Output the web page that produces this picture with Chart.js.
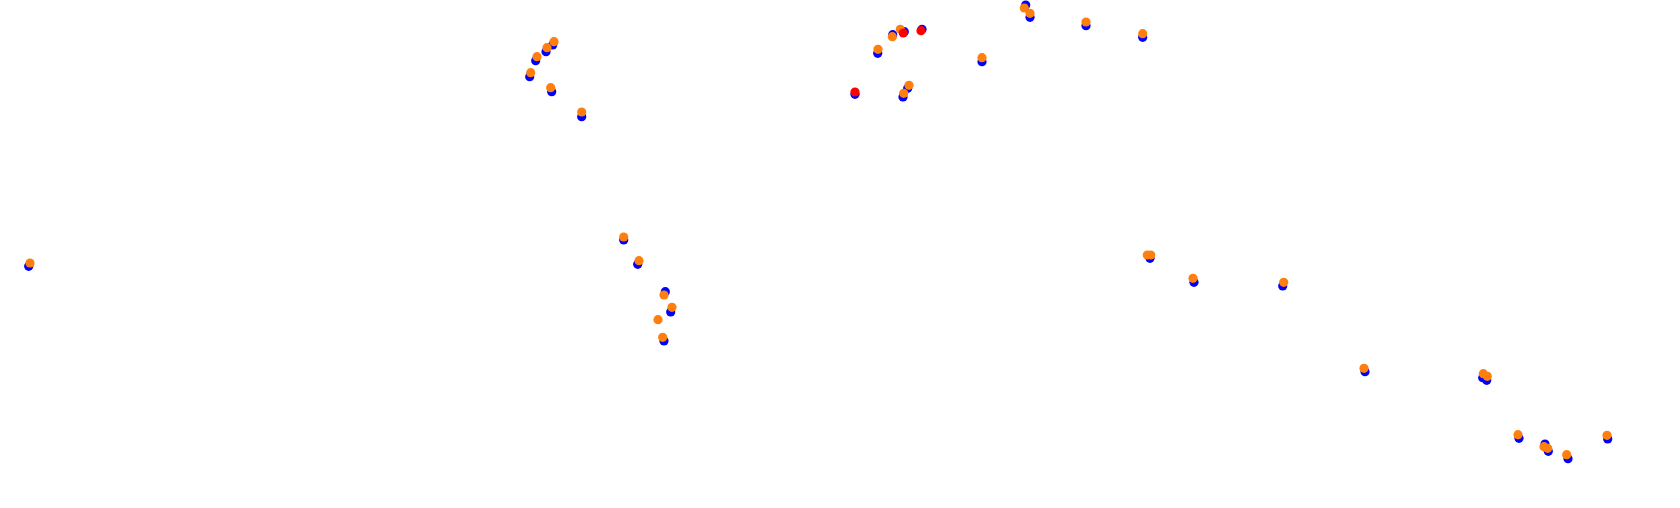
<!DOCTYPE html>
<html>
<head>
<meta charset="utf-8">
<script src="https://cdn.jsdelivr.net/npm/chart.js@4"></script>
<style>
  html, body { margin: 0; padding: 0; background: #fff; }
  #wrap { width: 1680px; height: 508px; }
</style>
</head>
<body>
<div id="wrap"><canvas id="chart"></canvas></div>
<script>
// positions (x right, y down)
const blueX = [28.7, 552.7, 546, 535.7, 529.7, 551.7, 581.7, 623.7, 637.7, 665.3, 670.7, 664,
  855, 877.7, 892.7, 904.3, 922, 907.7, 903, 982, 1025.7, 1030, 1086, 1142.7,
  1150, 1194, 1282.7, 1365, 1482.7, 1486.7, 1519, 1545, 1548.3, 1568, 1607.7];
const blueY = [266.3, 45, 51.7, 60.7, 76.7, 91.7, 116.7, 240, 264.3, 291.7, 312, 341,
  94.3, 53.3, 34.7, 31.7, 29.3, 88.3, 97, 61.7, 5, 17.3, 25.7, 37.3,
  258.3, 282.3, 286, 371.7, 377.7, 380.3, 438.3, 444, 451.3, 458.7, 439];

const orangeX = [30, 554, 547, 537, 530.7, 550.7, 581.7, 623.7, 639, 664, 672, 658, 662.7,
  878, 892.3, 900.3, 909, 903.7, 982, 1024.3, 1030, 1086, 1142.7,
  1147.3, 1150.7, 1193, 1283.7, 1364, 1483.3, 1487.3, 1518, 1544, 1547.7, 1566.7, 1607];
const orangeY = [263, 41.7, 47.7, 56.7, 72.7, 87.7, 112, 237, 260.7, 295, 307.3, 319.7, 337.3,
  49.3, 36.7, 29.3, 85.3, 93.3, 57.7, 8, 13.3, 22, 33.7,
  255, 255, 278.3, 282.3, 368.3, 373.7, 376.3, 434.7, 446.7, 448.3, 454.7, 435.3];

const redX = [855, 903.3, 921];
const redY = [92, 33, 30.7];

function pts(xs, ys) {
  return xs.map((x, i) => ({ x: x, y: ys[i] }));
}

// higher order is drawn first (underneath)
function ds(xs, ys, color, order) {
  return {
    data: pts(xs, ys),
    order: order,
    backgroundColor: color,
    borderColor: color,
    borderWidth: 0,
    pointRadius: 4.6,
    pointHoverRadius: 4.6,
    clip: false
  };
}

new Chart(document.getElementById('chart'), {
  type: 'scatter',
  data: {
    datasets: [
      ds(blueX, blueY, '#0000ff', 3),
      ds(orangeX, orangeY, '#ff7f0e', 2),
      ds(redX, redY, '#ff0000', 1)
    ]
  },
  options: {
    responsive: true,
    maintainAspectRatio: false,
    animation: false,
    layout: { padding: 0, autoPadding: false },
    scales: {
      x: { type: 'linear', display: false, min: 0, max: 1680 },
      y: { type: 'linear', display: false, min: 0, max: 508, reverse: true }
    },
    plugins: {
      legend: { display: false },
      tooltip: { enabled: false }
    }
  }
});
</script>
</body>
</html>
